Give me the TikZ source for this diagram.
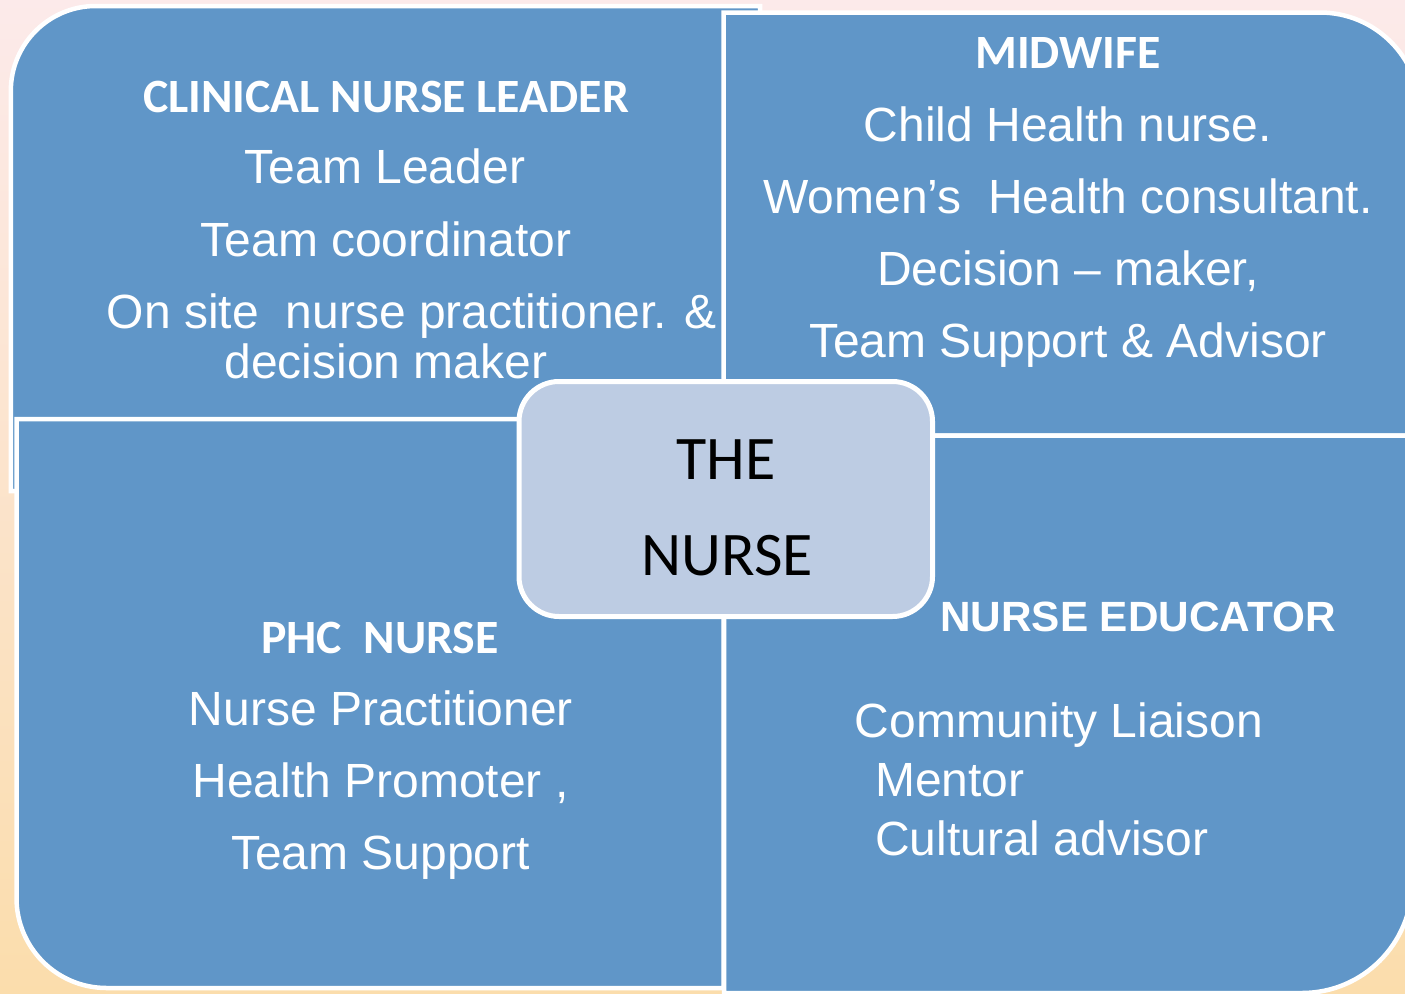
\documentclass[tikz,border=0pt]{standalone}
\usepackage{fontspec}
\setmainfont{Liberation Sans}
\newfontfamily\calfont{Carlito}
\definecolor{quad}{RGB}{96,150,200}
\definecolor{core}{RGB}{189,204,227}
\definecolor{bgtop}{RGB}{252,234,234}
\definecolor{bgmid}{RGB}{253,208,155}
\definecolor{bgbot}{RGB}{251,221,172}
\begin{document}
\begin{tikzpicture}[x=1pt,y=-1pt,
  quadbox/.style={fill=quad,draw=white,line width=4.5pt},
  body/.style={text=white,inner sep=0pt,anchor=base,font=\fontsize{48}{57}\selectfont},
  bodyleft/.style={body,anchor=base west},
  head/.style={text=white,inner sep=0pt,anchor=base,font=\calfont\bfseries\fontsize{47.8}{57}\selectfont},
  headarial/.style={text=white,inner sep=0pt,anchor=base,font=\bfseries\fontsize{42.3}{50}\selectfont},
  corebox/.style={draw=white,line width=5pt,fill=core,rounded corners=40pt,minimum width=413.5pt,minimum height=235pt,inner sep=0pt},
  coretext/.style={text=black,inner sep=0pt,anchor=base,font=\calfont\fontsize{62}{73}\selectfont}]
\useasboundingbox (0,0) rectangle (1405,993);
\fill[top color=bgtop,middle color=bgmid,bottom color=bgbot] (0,0) rectangle (1405,993);
% quadrants
\draw[quadbox] (10.8,491) -- (10.8,91) arc[start angle=180,end angle=270,radius=85] -- (760,6) -- (760,491) -- cycle;
\draw[quadbox] (723.5,435.5) -- (723.5,12.5) -- (1320,12.5) arc[start angle=270,end angle=360,radius=100] -- (1420,435.5) -- cycle;
\draw[quadbox] (16.5,419) -- (16.5,898) arc[start angle=180,end angle=90,radius=90] -- (723.5,988) -- (723.5,419) -- cycle;
\draw[quadbox] (724,435.5) -- (1412,435.5) -- (1412,883) arc[start angle=0,end angle=90,radius=110] -- (724,993) -- cycle;
% top left
\node[head] (cnl) at (386,112) {CLINICAL NURSE LEADER};
\node[body] (tl1) at (385,183) {Team Leader};
\node[body] (tl2) at (386,256) {Team coordinator};
\node[body] (tl3) at (412,328) {On site\ \ nurse practitioner. \&};
\node[body] (tl4) at (386,378) {decision maker};
% top right
\node[head] (mid) at (1068,68.5) {MIDWIFE};
\node[body] (tr1) at (1068,141) {Child Health nurse.};
\node[body] (tr2) at (1068,213) {Women’s\ \ Health consultant.};
\node[body] (tr3) at (1068,285) {Decision – maker,};
\node[body] (tr4) at (1068,357) {Team Support \& Advisor};
% bottom left
\node[head] (phc) at (380,653.5) {PHC\ \ NURSE};
\node[body] (bl1) at (381,725) {Nurse Practitioner};
\node[body] (bl2) at (380.5,797) {Health Promoter ,};
\node[body] (bl3) at (380.5,869) {Team Support};
% bottom right
\node[headarial] (edu) at (1138,631.5) {NURSE EDUCATOR};
\node[bodyleft] (br1) at (854.5,737) {Community Liaison};
\node[bodyleft] (br2) at (875,796) {Mentor};
\node[bodyleft] (br3) at (875,855) {Cultural advisor};
% centre
\node[corebox] (nurse) at (725.75,499) {};
\node[coretext] (the) at (726,479) {THE};
\node[coretext] (nursetxt) at (727.5,575) {NURSE};
\end{tikzpicture}
\end{document}
